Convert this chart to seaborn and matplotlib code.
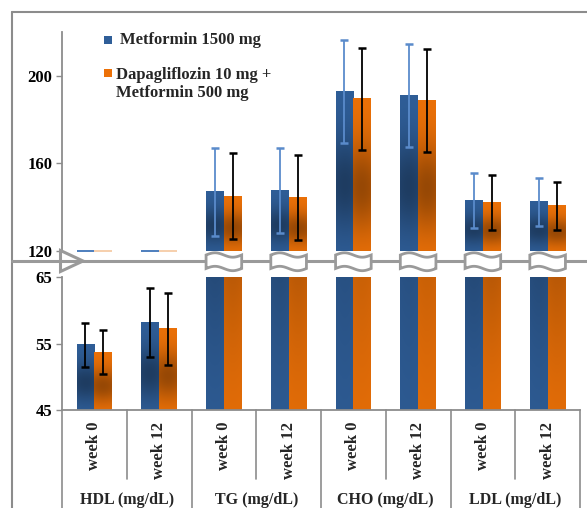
import numpy as np
import pandas as pd
import matplotlib
matplotlib.use("Agg")
import matplotlib.pyplot as plt
import matplotlib.colors as mcolors
import matplotlib.transforms as mtransforms
from matplotlib.patches import Polygon, Rectangle
from matplotlib.lines import Line2D
import seaborn as sns

# Data (means and SD)
params = ["HDL (mg/dL)", "TG (mg/dL)", "CHO (mg/dL)", "LDL (mg/dL)"]
weeks = ["week 0", "week 12"]
groups = ["Metformin 1500 mg", "Dapagliflozin 10 mg +\nMetformin 500 mg"]

met_mean = [54.8, 58.2, 147.0, 147.5, 192.8, 191.0, 143.2, 142.5]
met_sd = [3.3, 5.2, 20.0, 19.5, 23.4, 23.7, 12.5, 11.0]
dapa_mean = [53.7, 57.2, 145.1, 144.3, 189.5, 188.9, 142.0, 140.7]
dapa_sd = [3.3, 5.4, 19.8, 19.5, 23.4, 23.5, 12.5, 11.0]

top_ticks = [120, 160, 200]
bot_ticks = [45, 55, 65]

BLUE = "#2F5E98"
ORANGE = "#EC7108"
GRAY = "#9A9A9A"

cells = [p + "|" + w for p in params for w in weeks]
df = pd.DataFrame({
    "cell": cells * 2,
    "group": [groups[0]] * 8 + [groups[1]] * 8,
    "value": met_mean + dapa_mean,
    "sd": met_sd + dapa_sd,
})

sns.set_theme(style="white")
plt.rcParams["font.family"] = ["Liberation Serif", "DejaVu Serif"]
plt.rcParams["font.weight"] = "bold"

W, H = 587, 508
fig = plt.figure(figsize=(W / 100, H / 100), dpi=100)
ax_top = fig.add_axes([62 / W, 1 - 251 / H, 518 / W, 219 / H])
ax_bot = fig.add_axes([62 / W, 1 - 410 / H, 518 / W, 133 / H])


def shade(base):
    t = np.linspace(0, 1, 80)[:, None]
    s = np.linspace(0, 1, 20)[None, :]
    d = np.exp(-((t - 0.42) / 0.3) ** 2 - ((s - 0.5) / 1.3) ** 2)
    rgb = np.array(mcolors.to_rgb(base))
    return np.clip(rgb[None, None, :] * (1 - 0.36 * d[..., None]), 0, 1)


err_colors = {
    ax_top: ["#5A8BCB", "black"],
    ax_bot: ["black", "black"],
}

for ax, lim in [(ax_top, (120, 220)), (ax_bot, (45, 65))]:
    sns.barplot(data=df, x="cell", y="value", hue="group", order=cells,
                hue_order=groups, palette=[BLUE, ORANGE], width=0.55,
                gap=0, errorbar=None, legend=False, saturation=1, ax=ax)
    ax.set_xlim(-0.5, len(cells) - 0.5)
    ax.set_ylim(*lim)
    bar_sets = list(ax.containers)
    for k, cont in enumerate(bar_sets):
        sub = df[df["group"] == groups[k]]
        for bar, sd in zip(cont, sub["sd"]):
            x0, w, h = bar.get_x(), bar.get_width(), bar.get_height()
            bar.set_visible(False)
            if h > lim[0]:
                ax.imshow(shade([BLUE, ORANGE][k]), origin="lower",
                          extent=(x0, x0 + w, lim[0], h), aspect="auto",
                          interpolation="bilinear", zorder=2)
            elif ax is ax_top:
                # Excel draws the bars below the axis as a flat edge
                ax.hlines(lim[0], x0, x0 + w, color=["#3F74B8", "#F6CBA6"][k],
                          lw=1.3, zorder=3, clip_on=False)
            ax.errorbar(x0 + w / 2, h, yerr=sd, fmt="none",
                        ecolor=err_colors[ax][k], elinewidth=1.3,
                        capsize=2.6, capthick=1.8, zorder=4)
    ax.set_xlim(-0.5, len(cells) - 0.5)
    ax.set_ylim(*lim)
    ax.set_xlabel("")
    ax.set_ylabel("")
    ax.set_xticks([])
    for side in ["top", "right"]:
        ax.spines[side].set_visible(False)
    ax.spines["left"].set_color("#8C8C8C")
    ax.spines["left"].set_linewidth(1.3)
    ax.tick_params(axis="y", left=True, direction="out", length=4,
                   width=1, color="#8C8C8C", labelsize=12, pad=3)
    ax.patch.set_alpha(0)

ax_top.spines["bottom"].set_visible(False)
ax_bot.spines["bottom"].set_color("#8C8C8C")
ax_bot.spines["bottom"].set_linewidth(1.3)
ax_top.set_yticks(top_ticks)
ax_bot.set_yticks(bot_ticks)
for ax in (ax_top, ax_bot):
    for lab in ax.get_yticklabels():
        lab.set_fontweight("bold")
        lab.set_color("black")

# multi-level category axis
trans = mtransforms.blended_transform_factory(ax_bot.transData, ax_bot.transAxes)
for i, c in enumerate(cells):
    ax_bot.text(i, -0.09, c.split("|")[1], rotation=90, ha="center", va="top",
                fontsize=12, fontweight="bold", transform=trans)
for j, p in enumerate(params):
    ax_bot.text(2 * j + 0.5, -0.675, p, ha="center", va="center",
                fontsize=11.5, fontweight="bold", transform=trans)
for b in np.arange(-0.5, len(cells), 1.0):
    bottom = -0.75 if int(b + 0.5) % 2 == 0 else -0.52
    ax_bot.add_line(Line2D([b, b], [0, bottom], color="#8C8C8C", lw=1.2,
                           transform=trans, clip_on=False))

# axis break: line, triangle and wavy bar breaks
y_brk = 1 - 261 / H
fig.add_artist(Line2D([12 / W, 1], [y_brk, y_brk], color=GRAY, lw=2.2, zorder=5))
fig.add_artist(Polygon([[60.5 / W, 1 - 250.5 / H], [83 / W, y_brk], [60.5 / W, 1 - 271.5 / H]],
                       closed=True, fill=False, edgecolor=GRAY, lw=2.2, zorder=6))
to_fig = ax_bot.transData + fig.transFigure.inverted()
for i, c in enumerate(cells):
    if max(met_mean[i], dapa_mean[i]) <= 120:
        continue
    xa = to_fig.transform((i - 0.275, 0))[0]
    xb = to_fig.transform((i + 0.275, 0))[0]
    s = np.linspace(0, 1, 40)
    xs = xa + (xb - xa) * s
    top = 1 - (255 - 2.2 * np.sin(2 * np.pi * s)) / H
    bot = 1 - (268.5 - 2.2 * np.sin(2 * np.pi * s)) / H
    pts = np.vstack([np.column_stack([xs, top]),
                     np.column_stack([xs[::-1], bot[::-1]])])
    fig.add_artist(Polygon(pts, closed=True, facecolor="white",
                           edgecolor=GRAY, lw=2, zorder=7))

# legend
for k, (ytop, ytxt) in enumerate([(36, 40), (69, 75)]):
    fig.add_artist(Rectangle((104 / W, 1 - (ytop + 7.5) / H), 7.5 / W, 7.5 / H,
                             facecolor=[BLUE, ORANGE][k], edgecolor="none"))
fig.text(120 / W, 1 - 40 / H, groups[0], fontsize=12, fontweight="bold",
         va="center", ha="left")
fig.text(116.5 / W, 1 - 67 / H, groups[1], fontsize=12, fontweight="bold",
         va="top", ha="left", linespacing=1.2)

# outer frame
fig.add_artist(Line2D([12 / W, 12 / W], [0, 1 - 12 / H], color="#8C8C8C", lw=1.5))
fig.add_artist(Line2D([12 / W, 1], [1 - 12 / H, 1 - 12 / H], color="#8C8C8C", lw=1.5))

fig.savefig("out.png", dpi=100)
